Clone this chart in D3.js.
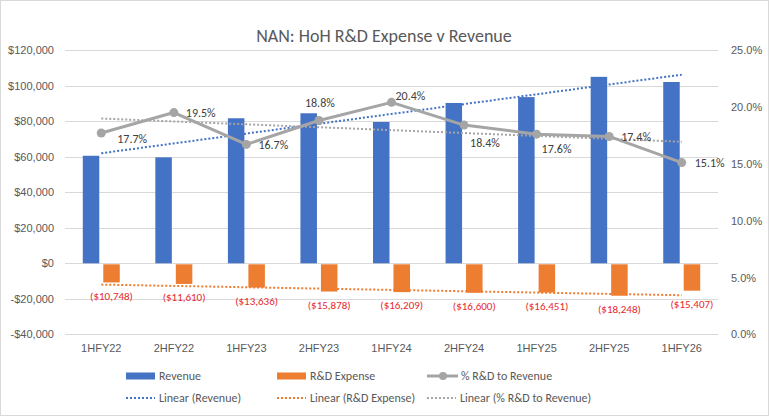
<!DOCTYPE html>
<html>
<head>
<meta charset="utf-8">
<script src="https://cdn.jsdelivr.net/npm/d3@7"></script>
<style>
body { margin: 0; background: #fff; }
svg { display: block; font-family: Calibri, Carlito, Lato, sans-serif; }
.tick text { fill: #595959; font-size: 11px; }
</style>
</head>
<body>
<svg id="chart" width="769" height="416"></svg>
<script>
// data
var periods = ["1HFY22","2HFY22","1HFY23","2HFY23","1HFY24","2HFY24","1HFY25","2HFY25","1HFY26"];
var revenue = [60500, 59600, 81600, 84400, 79500, 90200, 93500, 104900, 102000];
var rdExpense = [-10748, -11610, -13636, -15878, -16209, -16600, -16451, -18248, -15407];
var rdPct = [17.7, 19.5, 16.7, 18.8, 20.4, 18.4, 17.6, 17.4, 15.1];
var leftTicks = [-40000, -20000, 0, 20000, 40000, 60000, 80000, 100000, 120000];
var rightTicks = [0, 5, 10, 15, 20, 25];

// label nudges for the % labels (dx to text start, dy to text middle)
var pctLabelOffsets = [[16,6],[12,0],[12,0],[-14,-18],[4,-7],[6,18],[5,15],[12,0],[13,0]];

var svg = d3.select("#chart");
var W = 769, H = 416;

// outer border
svg.append("rect")
	.attr("x", 0.5).attr("y", 0.5)
	.attr("width", W - 1).attr("height", H - 1)
	.attr("fill", "#fff").attr("stroke", "#d9d9d9");

var plotL = 65, plotR = 718, plotT = 50, plotB = 334.4;

var x = d3.scaleBand().domain(periods).range([plotL, plotR]);
var xSub = d3.scaleBand().domain(["rev","rd"]).range([-18.5, 18.5]).paddingInner(0.195);
var yLeft = d3.scaleLinear().domain([-40000, 120000]).range([plotB, plotT]);
var yRight = d3.scaleLinear().domain([0, 25]).range([plotB, plotT]);

function cx(i) { return x(periods[i]) + x.bandwidth() / 2; }

// title
svg.append("text")
	.attr("x", 384).attr("y", 42)
	.attr("text-anchor", "middle")
	.attr("fill", "#595959")
	.style("font-size", "18px")
	.text("NAN: HoH R&D Expense v Revenue");

// gridlines
svg.append("g").selectAll("line")
	.data(leftTicks)
	.enter().append("line")
	.attr("x1", plotL).attr("x2", plotR)
	.attr("y1", function(d){ return Math.round(yLeft(d)) + 0.5; })
	.attr("y2", function(d){ return Math.round(yLeft(d)) + 0.5; })
	.attr("stroke", "#d9d9d9");

var money = d3.format(",");
var gL = svg.append("g")
	.attr("transform", "translate(" + plotL + ",0)")
	.call(d3.axisLeft(yLeft).tickValues(leftTicks).tickSize(0).tickPadding(11)
		.tickFormat(function(d){ return d < 0 ? "-$" + money(-d) : "$" + money(d); }));
gL.select(".domain").remove();

var gR = svg.append("g")
	.attr("transform", "translate(" + plotR + ",0)")
	.call(d3.axisRight(yRight).tickValues(rightTicks).tickSize(0).tickPadding(13)
		.tickFormat(function(d){ return d.toFixed(1) + "%"; }));
gR.select(".domain").remove();

var gX = svg.append("g")
	.attr("transform", "translate(0," + plotB + ")")
	.call(d3.axisBottom(x).tickSize(0).tickPadding(10));
gX.select(".domain").remove();

// bars
svg.append("g").selectAll("rect")
	.data(revenue)
	.enter().append("rect")
	.attr("x", function(d, i){ return cx(i) + xSub("rev"); })
	.attr("width", xSub.bandwidth())
	.attr("y", function(d){ return yLeft(d); })
	.attr("height", function(d){ return yLeft(0) - yLeft(d); })
	.attr("fill", "#4472c4");

svg.append("g").selectAll("rect")
	.data(rdExpense)
	.enter().append("rect")
	.attr("x", function(d, i){ return cx(i) + xSub("rd"); })
	.attr("width", xSub.bandwidth())
	.attr("y", yLeft(0) + 1)
	.attr("height", function(d){ return yLeft(d) - yLeft(0) - 1; })
	.attr("fill", "#ed7d31");

// linear trendlines (least squares over index 1..n)
function linFit(vals) {
	var n = vals.length, mx = (n + 1) / 2, my = d3.mean(vals), sxy = 0, sxx = 0;
	vals.forEach(function(v, i){ sxy += (i + 1 - mx) * (v - my); sxx += (i + 1 - mx) * (i + 1 - mx); });
	var b = sxy / sxx;
	return vals.map(function(v, i){ return my + b * (i + 1 - mx); });
}

function trend(vals, scale, color) {
	var fit = linFit(vals);
	var line = d3.line()
		.x(function(d, i){ return cx(i); })
		.y(function(d){ return scale(d); });
	svg.append("path")
		.attr("d", line(fit))
		.attr("fill", "none")
		.attr("stroke", color)
		.attr("stroke-width", 2)
		.attr("stroke-dasharray", "2,2");
}
trend(revenue, yLeft, "#4472c4");
trend(rdExpense, yLeft, "#ed7d31");
trend(rdPct, yRight, "#a5a5a5");

// % line
var pctLine = d3.line()
	.x(function(d, i){ return cx(i); })
	.y(function(d){ return yRight(d); });
svg.append("path")
	.attr("d", pctLine(rdPct))
	.attr("fill", "none")
	.attr("stroke", "#a5a5a5")
	.attr("stroke-width", 3)
	.attr("stroke-linejoin", "round");
svg.append("g").selectAll("circle")
	.data(rdPct)
	.enter().append("circle")
	.attr("cx", function(d, i){ return cx(i); })
	.attr("cy", function(d){ return yRight(d); })
	.attr("r", 4.5)
	.attr("fill", "#a5a5a5");

// labels
svg.append("g").selectAll("text")
	.data(rdPct)
	.enter().append("text")
	.attr("x", function(d, i){ return cx(i) + pctLabelOffsets[i][0]; })
	.attr("y", function(d, i){ return yRight(d) + pctLabelOffsets[i][1]; })
	.attr("dy", "0.35em")
	.attr("fill", "#404040")
	.style("font-size", "12px")
	.text(function(d){ return d.toFixed(1) + "%"; });

svg.append("g").selectAll("text")
	.data(rdExpense)
	.enter().append("text")
	.attr("x", function(d, i){ return cx(i) + xSub("rd") + xSub.bandwidth() / 2; })
	.attr("y", function(d){ return yLeft(d) + 13.5; })
	.attr("dy", "0.35em")
	.attr("text-anchor", "middle")
	.attr("fill", "#e8262a")
	.style("font-size", "11px")
	.text(function(d){ return "($" + money(-d) + ")"; });

// legend
var legendItems = [
	{name: "Revenue", kind: "bar", color: "#4472c4", x: 126, y: 376},
	{name: "R&D Expense", kind: "bar", color: "#ed7d31", x: 277, y: 376},
	{name: "% R&D to Revenue", kind: "line", color: "#a5a5a5", x: 427, y: 376},
	{name: "Linear (Revenue)", kind: "dot", color: "#4472c4", x: 126, y: 398},
	{name: "Linear (R&D Expense)", kind: "dot", color: "#ed7d31", x: 277, y: 398},
	{name: "Linear (% R&D to Revenue)", kind: "dot", color: "#a5a5a5", x: 427, y: 398}
];
var lg = svg.append("g").selectAll("g")
	.data(legendItems)
	.enter().append("g")
	.attr("transform", function(d){ return "translate(" + d.x + "," + d.y + ")"; });
lg.each(function(d){
	var g = d3.select(this);
	if (d.kind == "bar") {
		g.append("rect").attr("x", 0).attr("y", -3.5).attr("width", 29).attr("height", 7).attr("fill", d.color);
	} else if (d.kind == "line") {
		g.append("line").attr("x1", 0).attr("x2", 31).attr("y1", 0).attr("y2", 0)
			.attr("stroke", d.color).attr("stroke-width", 3);
		g.append("circle").attr("cx", 16).attr("cy", 0).attr("r", 4).attr("fill", d.color);
	} else {
		g.append("line").attr("x1", 0).attr("x2", 29).attr("y1", 0).attr("y2", 0)
			.attr("stroke", d.color).attr("stroke-width", 2).attr("stroke-dasharray", "2,2");
	}
	g.append("text")
		.attr("x", d.kind == "line" ? 34 : 33)
		.attr("y", 0).attr("dy", "0.35em")
		.attr("fill", "#595959")
		.style("font-size", "12px")
		.text(d.name);
});
</script>
</body>
</html>
